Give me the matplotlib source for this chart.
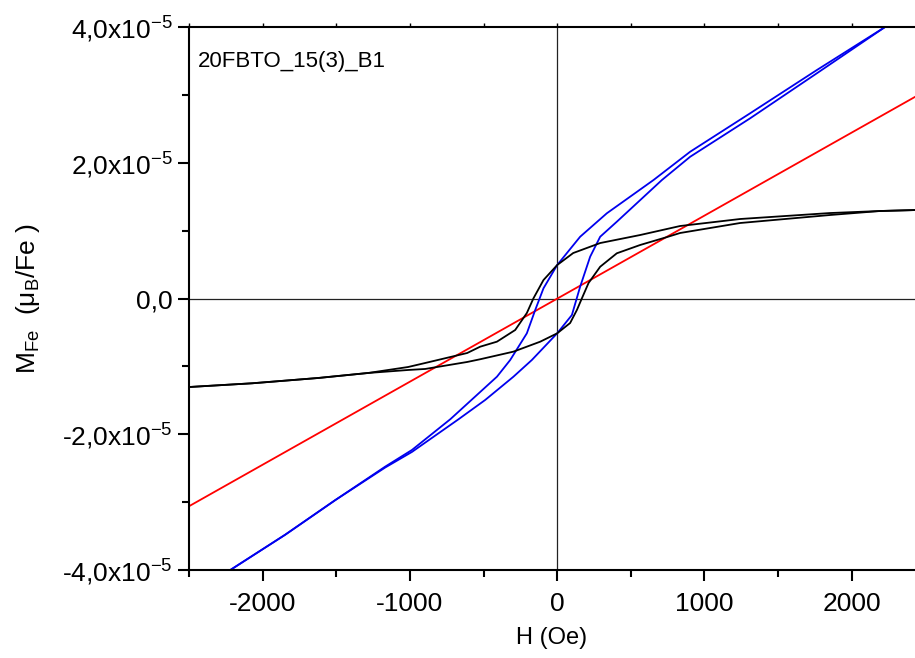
import matplotlib.pyplot as plt
from matplotlib.ticker import FuncFormatter, MultipleLocator
import numpy as np

plt.rcParams['font.family'] = ['Liberation Sans', 'DejaVu Sans']
plt.rcParams['mathtext.default'] = 'regular'
plt.rcParams['axes.unicode_minus'] = False

# black loop (after linear subtraction), descending and ascending branches
h_desc = [2430, 2193, 1853, 1242, 835, 563, 292, 109, 0, -93, -161, -206, -285,
          -409, -523, -611, -896, -1012, -1283, -1623, -2071, -2492]
m_desc = [1.303e-5, 1.289e-5, 1.259e-5, 1.171e-5, 1.068e-5, 0.935e-5, 0.817e-5,
          0.670e-5, 0.493e-5, 0.272e-5, 0.003e-5, -0.214e-5, -0.464e-5, -0.636e-5,
          -0.710e-5, -0.803e-5, -0.950e-5, -1.009e-5, -1.097e-5, -1.171e-5,
          -1.249e-5, -1.303e-5]
h_asc = [-2492, -2071, -1623, -1283, -1012, -896, -611, -523, -297, -115, 0, 88,
         134, 168, 213, 292, 405, 563, 747, 835, 1242, 1853, 2193, 2430]
m_asc = [-1.303e-5, -1.249e-5, -1.171e-5, -1.097e-5, -1.053e-5, -1.038e-5,
         -0.935e-5, -0.895e-5, -0.783e-5, -0.636e-5, -0.513e-5, -0.361e-5,
         -0.169e-5, 0.003e-5, 0.228e-5, 0.468e-5, 0.666e-5, 0.788e-5, 0.906e-5,
         0.965e-5, 1.112e-5, 1.230e-5, 1.289e-5, 1.303e-5]

# blue loop (raw data)
hb_desc = [2227, 1763, 1310, 903, 654, 337, 156, 0, -93, -149, -206, -319, -409,
           -726, -986, -1168, -1507, -1847, -2220]
mb_desc = [4.0e-5, 3.365e-5, 2.728e-5, 2.162e-5, 1.745e-5, 1.255e-5, 0.910e-5,
           0.493e-5, 0.150e-5, -0.169e-5, -0.513e-5, -0.906e-5, -1.152e-5,
           -1.779e-5, -2.231e-5, -2.477e-5, -2.97e-5, -3.48e-5, -4.0e-5]
hb_asc = [-2220, -1847, -1507, -1168, -986, -670, -489, -297, -172, 0, 100, 156,
          224, 292, 405, 711, 903, 1310, 1763, 2227]
mb_asc = [-4.0e-5, -3.48e-5, -2.97e-5, -2.49e-5, -2.26e-5, -1.779e-5, -1.495e-5,
          -1.152e-5, -0.906e-5, -0.513e-5, -0.243e-5, 0.174e-5, 0.616e-5,
          0.910e-5, 1.131e-5, 1.745e-5, 2.088e-5, 2.654e-5, 3.317e-5, 4.0e-5]

# red linear part
h_lin = [-2500, 2430]
m_lin = [-3.06e-5, 2.97e-5]

fig = plt.figure(figsize=(9.15, 6.58), dpi=100)
ax = fig.add_axes([0.2066, 0.1337, 0.7934, 0.8253])

ax.axhline(0, color='#222222', lw=0.9, zorder=1)
ax.axvline(0, color='#222222', lw=0.9, zorder=1)

ax.plot(h_lin, m_lin, color='red', lw=1.3)
ax.plot(hb_desc, mb_desc, color='#0000ee', lw=1.3)
ax.plot(hb_asc, mb_asc, color='#0000ee', lw=1.3)
ax.plot(h_desc, m_desc, color='black', lw=1.3)
ax.plot(h_asc, m_asc, color='black', lw=1.3)

ax.set_xlim(-2500, 2430)
ax.set_ylim(-4e-5, 4e-5)

ax.xaxis.set_major_locator(MultipleLocator(1000))
ax.xaxis.set_minor_locator(MultipleLocator(500))
ax.yaxis.set_major_locator(MultipleLocator(2e-5))
ax.yaxis.set_minor_locator(MultipleLocator(1e-5))


def yfmt(v, pos):
    if abs(v) < 1e-12:
        return '0,0'
    s = '%.1f' % (v / 1e-5)
    return s.replace('.', ',') + r'x10$^{-5}$'


ax.yaxis.set_major_formatter(FuncFormatter(yfmt))
ax.tick_params(axis='both', which='major', direction='out', length=8, width=1.5,
               labelsize=19, pad=4)
ax.tick_params(axis='both', which='minor', direction='out', length=5, width=1.5)
ax.tick_params(axis='x', which='major', pad=8)
# small inward ticks along the top frame
ax.tick_params(axis='x', which='both', top=True, labeltop=False)
for t in ax.xaxis.get_major_ticks() + ax.xaxis.get_minor_ticks():
    t.tick2line.set_marker(2)
    t.tick2line.set_markersize(3)
    t.tick2line.set_markeredgewidth(1)

for side in ['left', 'bottom', 'top']:
    ax.spines[side].set_linewidth(1.5)
ax.spines['right'].set_visible(False)

ax.set_xlabel('H (Oe)', fontsize=17, labelpad=8)
ax.set_ylabel(r'M$_{Fe}$  ($\mu_B$/Fe )', fontsize=19, labelpad=14)

ax.text(0.012, 0.955, '20FBTO_15(3)_B1', transform=ax.transAxes, fontsize=16,
        ha='left', va='top')

fig.savefig('out.png', dpi=100)
